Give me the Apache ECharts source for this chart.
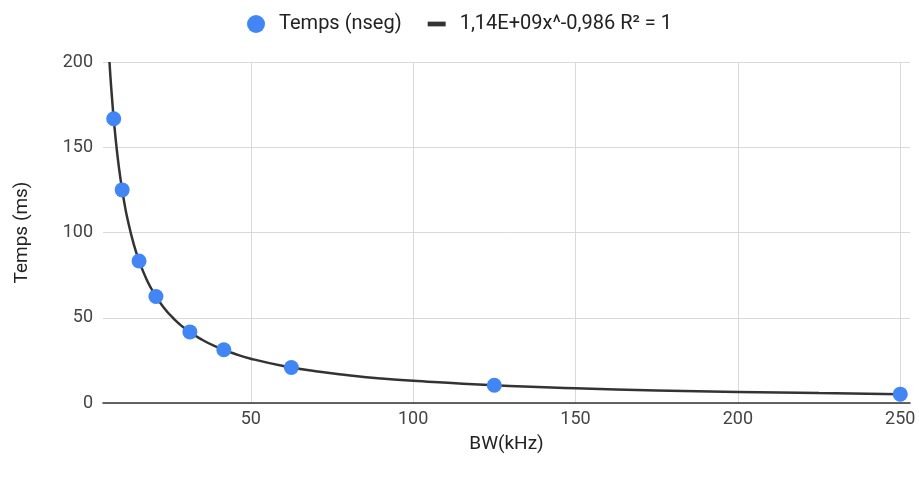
<!DOCTYPE html>
<html><head><meta charset="utf-8">
<script src="https://cdn.jsdelivr.net/npm/echarts@6/dist/echarts.min.js"></script>
<style>html,body{margin:0;padding:0;background:#fff}#c{width:919px;height:486px}</style>
</head><body><div id="c"></div>
<script>
const bw = [7.8, 10.4, 15.6, 20.8, 31.25, 41.7, 62.5, 125, 250];
const temps = [166.7, 125, 83.3, 62.5, 41.7, 31.25, 20.8, 10.4, 5.2];
const trendX = [6.5, 7, 8, 9, 10, 11, 12, 14, 16, 18, 20, 23, 26, 30, 35, 40, 45, 50, 60, 70, 80, 90, 100, 125, 150, 175, 200, 225, 250];
const trendY = [200, 185.7, 162.5, 144.4, 130, 118.2, 108.3, 92.9, 81.3, 72.2, 65, 56.5, 50, 43.3, 37.1, 32.5, 28.9, 26, 21.7, 18.6, 16.3, 14.4, 13, 10.4, 8.7, 7.4, 6.5, 5.8, 5.2];
const xTicks = [50, 100, 150, 200, 250];
const yTicks = [0, 50, 100, 150, 200];
const seriesName = 'Temps (nseg)';
const trendName = '1,14E+09x^-0,986 R² = 1';

const chart = echarts.init(document.getElementById('c'));
chart.setOption({
  animation: false,
  textStyle: {fontFamily: 'Roboto'},
  legend: {
    top: 9, left: 'center', itemGap: 26,
    textStyle: {fontSize: 20, color: '#222', padding: [0, 0, 0, 9]},
    itemWidth: 18, itemHeight: 18,
    data: [
      {name: seriesName, icon: 'circle', itemStyle: {color: '#4285f4'}},
      {name: trendName, icon: 'path://M0,0H19V5H0Z', itemStyle: {color: '#333'}}
    ]
  },
  grid: {left: 103, right: 9, top: 62, bottom: 83},
  xAxis: {
    type: 'value', min: 4.5, max: 253,
    name: 'BW(kHz)', nameLocation: 'middle', nameGap: 32,
    nameTextStyle: {fontSize: 19, color: '#222'},
    axisLine: {show: true, onZero: false, lineStyle: {color: '#333', width: 1.5}},
    axisTick: {show: false, customValues: xTicks},
    axisLabel: {customValues: xTicks, fontSize: 18, color: '#444', margin: 7},
    splitLine: {show: true, lineStyle: {color: '#d9d9d9'}}
  },
  yAxis: {
    type: 'value', min: 0, max: 200, interval: 50,
    name: 'Temps (ms)', nameLocation: 'middle', nameGap: 71, nameRotate: 90,
    nameTextStyle: {fontSize: 19, color: '#222'},
    axisLine: {show: false}, axisTick: {show: false},
    axisLabel: {customValues: yTicks, fontSize: 18, color: '#444', margin: 10},
    splitLine: {show: true, lineStyle: {color: '#d9d9d9'}}
  },
  series: [
    {
      name: trendName, type: 'line', smooth: true, showSymbol: false,
      data: trendX.map((x, i) => [x, trendY[i]]),
      lineStyle: {color: '#333', width: 2.5}, itemStyle: {color: '#333'},
      z: 2
    },
    {
      name: seriesName, type: 'scatter', symbolSize: 15,
      data: bw.map((x, i) => [x, temps[i]]),
      itemStyle: {color: '#4285f4', opacity: 1}, z: 3
    }
  ]
});
</script></body></html>
